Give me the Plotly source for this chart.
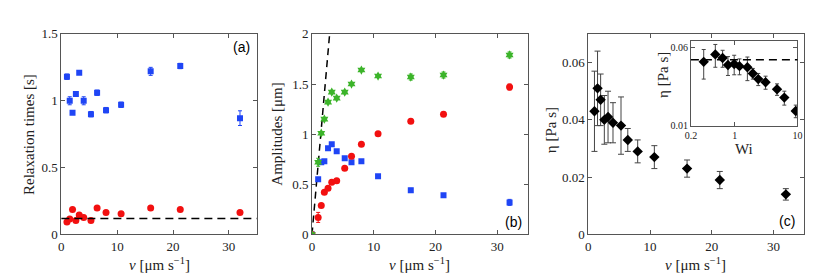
import plotly.graph_objects as go

# ---------------- data ----------------
v = [1.0, 1.5, 2.0, 2.6, 3.2, 4.0, 5.3, 6.4, 8.0, 10.7, 16.0, 21.3, 32.0]

# (a) relaxation times [s]
tau_slow = [1.18, 1.00, 0.91, 1.05, 1.21, 1.00, 0.90, 1.06, 0.93, 0.97, 1.22, 1.26, 0.87]
tau_slow_err = [0.02, 0.03, 0.01, 0.01, 0.01, 0.03, 0.02, 0.02, 0.02, 0.02, 0.03, 0.02, 0.055]
tau_fast = [0.094, 0.115, 0.186, 0.104, 0.146, 0.127, 0.104, 0.198, 0.165, 0.155, 0.198, 0.186, 0.165]
tau_ref = 0.12

# (b) amplitudes [um]
v_b = [0.0] + v
amp_blue = [0.0, 0.55, 0.72, 0.73, 0.86, 0.90, 0.83, 0.76, 0.72, 0.73, 0.58, 0.44, 0.39, 0.32]
amp_blue_err = [0, 0.01, 0.01, 0.01, 0.01, 0.01, 0.01, 0.01, 0.01, 0.01, 0.01, 0.02, 0.01, 0.03]
amp_red = [0.0, 0.17, 0.29, 0.42, 0.46, 0.52, 0.535, 0.66, 0.78, 0.90, 1.005, 1.13, 1.20, 1.47]
amp_red_err = [0, 0.05, 0.01, 0.01, 0.01, 0.01, 0.01, 0.01, 0.01, 0.01, 0.01, 0.02, 0.02, 0.03]
amp_green = [0.0, 0.72, 1.01, 1.15, 1.32, 1.42, 1.36, 1.42, 1.50, 1.64, 1.58, 1.57, 1.59, 1.79]
amp_green_err = [0, 0.04, 0.01, 0.01, 0.01, 0.01, 0.01, 0.01, 0.01, 0.01, 0.01, 0.03, 0.03, 0.03]
amp_slope = 0.70  # slope of dashed guide line [um per um/s]

# (c) viscosity [Pa s]
eta = [0.043, 0.051, 0.047, 0.040, 0.041, 0.039, 0.038, 0.033, 0.029, 0.027, 0.023, 0.019, 0.014]
eta_err = [0.014, 0.013, 0.009, 0.0085, 0.009, 0.007, 0.010, 0.004, 0.004, 0.004, 0.003, 0.003, 0.002]
wi = [0.32, 0.49, 0.64, 0.78, 0.98, 1.19, 1.59, 1.94, 2.37, 3.1, 4.72, 6.17, 9.38]
eta_ref = 0.045

# ---------------- style ----------------
W, H = 830, 278
BLUE = "#1f45f5"
RED = "#f21010"
GREEN = "#3cb42a"
AX = "#555555"
SERIF = "Liberation Serif, Times New Roman, serif"
SANS = "Liberation Sans, Arial, sans-serif"

def px_x(a, b):
    return [a / W, b / W]

def px_y(top, bot):
    return [(H - bot) / H, (H - top) / H]

fig = go.Figure()

# (a)
fig.add_trace(go.Scatter(x=v, y=tau_slow, mode="markers", xaxis="x", yaxis="y",
                         marker=dict(symbol="square", size=6, color=BLUE),
                         error_y=dict(type="data", array=tau_slow_err, color=BLUE, thickness=1, width=2)))
fig.add_trace(go.Scatter(x=v, y=tau_fast, mode="markers", xaxis="x", yaxis="y",
                         marker=dict(symbol="circle", size=7, color=RED)))

# (b)
guide_top = 2.0
fig.add_trace(go.Scatter(x=[0, guide_top / amp_slope], y=[0, guide_top], mode="lines",
                         xaxis="x2", yaxis="y2",
                         line=dict(color="black", width=1.5, dash="7px,5px")))
fig.add_trace(go.Scatter(x=v_b, y=amp_blue, mode="markers", xaxis="x2", yaxis="y2",
                         marker=dict(symbol="square", size=6, color=BLUE),
                         error_y=dict(type="data", array=amp_blue_err, color=BLUE, thickness=1, width=2)))
fig.add_trace(go.Scatter(x=v_b, y=amp_red, mode="markers", xaxis="x2", yaxis="y2",
                         marker=dict(symbol="circle", size=7, color=RED),
                         error_y=dict(type="data", array=amp_red_err, color=RED, thickness=1, width=2)))
fig.add_trace(go.Scatter(x=v_b, y=amp_green, mode="markers", xaxis="x2", yaxis="y2",
                         marker=dict(symbol="hexagram", size=7, color=GREEN),
                         error_y=dict(type="data", array=amp_green_err, color=GREEN, thickness=1, width=2)))

# (c)
fig.add_trace(go.Scatter(x=v, y=eta, mode="markers", xaxis="x3", yaxis="y3",
                         marker=dict(symbol="diamond", size=8, color="black"),
                         error_y=dict(type="data", array=eta_err, color="#444444", thickness=1, width=3)))

# inset
fig.add_trace(go.Scatter(x=wi, y=eta, mode="markers", xaxis="x4", yaxis="y4",
                         marker=dict(symbol="diamond", size=8, color="black"),
                         error_y=dict(type="data", array=eta_err, color="#444444", thickness=1, width=2)))

tickfont = dict(family=SERIF, size=13, color="#222222")
common = dict(showline=True, linecolor=AX, linewidth=1, mirror="ticks", ticks="inside",
              ticklen=4, tickcolor=AX, showgrid=False, zeroline=False, tickfont=tickfont)

Y_MAIN = px_y(20, 232)
layout = dict(
    width=W, height=H, margin=dict(l=0, r=0, t=0, b=0),
    paper_bgcolor="white", plot_bgcolor="white", showlegend=False,
    xaxis=dict(domain=px_x(48, 246), anchor="y", range=[0, 35], tickvals=[0, 10, 20, 30], **common),
    yaxis=dict(domain=Y_MAIN, anchor="x", range=[0, 1.5], tickvals=[0, 0.5, 1, 1.5],
               ticktext=["0", "0.5", "1", "1.5"], **common),
    xaxis2=dict(domain=px_x(302, 521), anchor="y2", range=[0, 35], tickvals=[0, 10, 20, 30], **common),
    yaxis2=dict(domain=Y_MAIN, anchor="x2", range=[0, 2], tickvals=[0, 0.5, 1, 1.5, 2],
                ticktext=["0", "0.5", "1", "1.5", "2"], **common),
    xaxis3=dict(domain=px_x(582, 801), anchor="y3", range=[0, 35], tickvals=[0, 10, 20, 30], **common),
    yaxis3=dict(domain=Y_MAIN, anchor="x3", range=[0, 0.07], tickvals=[0, 0.02, 0.04, 0.06],
                ticktext=["0", "0.02", "0.04", "0.06"], **common),
)
inset_common = dict(common)
inset_common["tickfont"] = dict(family=SERIF, size=10, color="#222222")
layout["xaxis4"] = dict(domain=px_x(686, 794), anchor="y4", type="log", range=[-0.69897, 1.0],
                        tickvals=[0.2, 1, 10], ticktext=["0.2", "1", "10"], **inset_common)
layout["yaxis4"] = dict(domain=px_y(27, 117), anchor="x4", type="log", range=[-2.0, -1.155],
                        tickvals=[0.01, 0.06], ticktext=["0.01", "0.06"], **inset_common)
fig.update_layout(**layout)

# inset white background
fig.add_shape(type="rect", xref="x4 domain", yref="y4 domain", x0=0, x1=1, y0=0, y1=1,
              fillcolor="white", line=dict(width=0), layer="below")

# reference dashed lines
fig.add_shape(type="line", xref="x domain", yref="y", x0=0, x1=1, y0=tau_ref, y1=tau_ref,
              line=dict(color="black", width=1.5, dash="8px,5px"))
fig.add_shape(type="line", xref="x4 domain", yref="y4", x0=0, x1=1, y0=eta_ref, y1=eta_ref,
              line=dict(color="black", width=1.5, dash="8px,5px"))

title_font = dict(family=SERIF, size=15, color="#222222")
xt = "<i>v</i> [μm s<sup>−1</sup>]"
ann = [
    dict(text=xt, x=147 / W, y=(H - 263) / H),
    dict(text=xt, x=411 / W, y=(H - 263) / H),
    dict(text=xt, x=691 / W, y=(H - 263) / H),
    dict(text="Relaxation times [s]", x=15 / W, y=(H - 126) / H, textangle=-90),
    dict(text="Amplitudes [μm]", x=267 / W, y=(H - 126) / H, textangle=-90),
    dict(text="η [Pa s]", x=545 / W, y=(H - 122) / H, textangle=-90),
    dict(text="η [Pa s]", x=657 / W, y=(H - 63) / H, textangle=-90),
    dict(text="Wi", x=740 / W, y=(H - 142) / H),
]
for a in ann:
    a.update(xref="paper", yref="paper", showarrow=False, font=title_font,
             xanchor="center", yanchor="middle")
    fig.add_annotation(**a)

panel_font = dict(family=SANS, size=14, color="black")
for txt, xx, yy in [("(a)", 231, 34), ("(b)", 506, 219), ("(c)", 783, 218)]:
    fig.add_annotation(text=txt, x=xx / W, y=(H - yy) / H, xref="paper", yref="paper",
                       showarrow=False, font=panel_font, xanchor="center", yanchor="middle")

fig.write_html("out.html")
